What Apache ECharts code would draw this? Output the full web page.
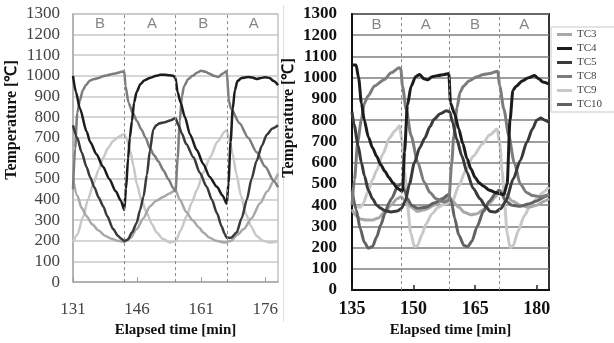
<!DOCTYPE html>
<html>
<head>
<meta charset="utf-8">
<script src="https://cdn.jsdelivr.net/npm/echarts@6/dist/echarts.min.js"></script>
<style>html,body{margin:0;padding:0;background:#fff}#c{width:614px;height:343px}</style>
</head>
<body>
<div id="c"></div>
<script>
// ---------- data ----------
const seriesNames = ['TC3','TC4','TC5','TC8','TC9','TC10'];
const phases = ['B','A','B','A'];
const L_phaseMid = [137.3, 149.5, 161.5, 173.3];
const R_phaseMid = [141, 153, 165, 177];
const L_switch = [143, 155, 167];
const R_switch = [147, 158.8, 170.8];
const L_xTicks = [131, 146, 161, 176];
const R_xTicks = [135, 150, 165, 180];

// left panel  [time(min), temperature(°C)]
const L_TC3 = [[131,500],[132,420],[133,360],[134.2,319],[135.5,280],[137,250],[138.5,225],[140,210],[141.5,200],[143,195],[144.5,215],[145.9,257],[147.5,310],[149,367],[150.5,395],[152.2,414],[153.6,430],[155,446],[156,400],[157.5,340],[159,300],[160.5,265],[161.5,240],[163,215],[164.5,200],[166.6,192],[168,200],[169.5,230],[171,257],[172.8,310],[174.8,382],[176.5,440],[178,490],[179,525]];
const L_TC4 = [[131,1000],[131.7,920],[132.6,843],[134.2,730],[135,680],[136.5,620],[138,560],[139.5,500],[141,440],[142.2,395],[143,350],[143.4,450],[143.9,600],[144.3,700],[144.8,780],[145.3,870],[145.9,922],[146.8,960],[147.7,978],[149,990],[150.5,1000],[151.4,1005],[152.5,1005],[153.5,1003],[154.5,1000],[155,990],[155.5,920],[156.2,870],[157.2,800],[158.4,716],[160,640],[161.5,573],[163,510],[164.7,462],[166,420],[167,380],[167.4,480],[167.9,680],[168.4,840],[168.9,930],[169.5,975],[170.5,990],[172,995],[173,992],[174,985],[175,990],[176,993],[177,990],[178,975],[179,955]];
const L_TC5 = [[131,760],[132,700],[133,630],[134.2,557],[135,510],[136,460],[137,410],[138.1,367],[139,320],[140.4,257],[141.5,225],[142.3,210],[143,200],[143.8,205],[144.8,240],[145.9,287],[146.7,350],[147.5,414],[148.3,520],[149,637],[149.8,740],[150.5,760],[151.3,770],[152.5,775],[153.7,784],[155,795],[155.7,760],[156.5,720],[157.5,670],[159.2,605],[160.7,530],[162.3,462],[163.5,400],[164.7,335],[165.8,270],[166.5,235],[167,215],[168,215],[169.3,240],[170.5,310],[171.7,399],[172.8,500],[174,589],[175.2,660],[176.4,716],[177.7,745],[179,760]];
const L_TC8 = [[131,450],[131.5,650],[132,820],[132.6,880],[133.3,930],[134,955],[135,978],[136,985],[137,990],[138,998],[139,1003],[140,1008],[141,1012],[142,1018],[143,1022],[143.3,950],[144,870],[145,820],[146,780],[147,740],[148,700],[149,650],[150,615],[151,585],[152.2,541],[153.3,500],[154.5,455],[155,440],[155.5,600],[156,780],[156.5,900],[157,950],[158,985],[159,1000],[160,1015],[161,1025],[162,1020],[163,1010],[164,1000],[165,995],[166,1010],[167,1022],[167.5,880],[168,840],[170,770],[172,700],[174,630],[176,560],[178,490],[179,460]];
const L_TC9 = [[131,195],[132,230],[133.4,319],[134.5,400],[135.8,478],[137,545],[138.1,605],[139.2,650],[140.4,684],[141.7,705],[143,718],[143.6,690],[144.4,637],[145.2,560],[145.9,478],[147,400],[148.3,335],[149.5,280],[150.6,240],[152,210],[153.7,192],[155,198],[156.2,250],[157.6,319],[158.8,385],[160,446],[161.5,530],[163.1,605],[164.8,680],[166.6,732],[167,735],[167.6,690],[168.4,620],[169.3,520],[170.3,420],[171.5,330],[172.7,270],[174,224],[175.5,200],[177.1,192],[178.3,195],[179,200]];

// right panel
const R_TC3 = [[135,380],[136,350],[137,335],[138.5,330],[140,330],[141.5,340],[143,370],[144.5,400],[146,430],[147,440],[148,420],[149.5,390],[151,370],[153,380],[155,400],[157,420],[158.5,440],[159.5,420],[161,390],[162.5,365],[164,355],[165.5,360],[167,380],[168.5,410],[170,440],[171,470],[172.5,450],[174,420],[176,400],[178,390],[180,400],[182,420],[183,430]];
const R_TC4 = [[135,1060],[136,1060],[136.6,1000],[137.3,880],[138,800],[139,720],[140,670],[141,630],[142,590],[143,560],[144,530],[145,505],[146,480],[147.3,465],[147.8,650],[148.5,870],[149.4,960],[150.5,1005],[151.5,1015],[152.5,995],[153.5,990],[154.5,1005],[156,1010],[157.5,1015],[158.6,1020],[159,880],[160,830],[161,760],[162,690],[163,620],[164,570],[165,530],[166,505],[167,490],[168.5,470],[170,460],[170.8,455],[172,450],[172.8,500],[173.5,800],[174.2,940],[175,960],[176.5,985],[178,1000],[179.5,1010],[180.5,995],[181.5,980],[183,970]];
const R_TC5 = [[135,840],[135.5,780],[136.5,680],[137.3,600],[138,540],[139,470],[140,430],[141,400],[142,385],[143,375],[144.5,368],[146,372],[147,384],[148,420],[149,500],[150.2,600],[151.5,670],[152.7,715],[154,770],[155,805],[156.5,830],[158,844],[158.8,840],[159.5,790],[160.5,711],[161.8,630],[163,555],[164.5,480],[166.2,430],[167.5,395],[168.7,370],[170,368],[171.3,384],[172.5,420],[174.3,524],[176,610],[177.6,696],[179,760],[180,800],[181,810],[182,800],[183,790]];
const R_TC8 = [[135,400],[135.6,520],[136.4,700],[137.3,805],[138,880],[138.9,914],[140.5,961],[142.9,992],[144.5,1023],[146.5,1047],[146.9,1040],[147.3,960],[148.2,852],[149.4,727],[151,602],[152.6,508],[154,460],[155.5,430],[157.5,415],[158.6,423],[159.3,600],[159.8,727],[160.6,860],[161.3,930],[162.2,961],[163.5,985],[165.5,1005],[167,1015],[168.5,1020],[170.5,1031],[171,960],[172,852],[173.2,727],[174.5,602],[176,500],[177.5,460],[179,445],[181,440],[183,450]];
const R_TC9 = [[135,420],[136,395],[137,390],[137.7,407],[139,470],[140,520],[141,563],[142.5,640],[144.2,719],[145.5,750],[146.6,774],[147.2,700],[147.8,560],[148.5,400],[149.3,270],[150.2,205],[151,210],[152,260],[153,310],[154.5,360],[156,390],[157.5,405],[159,415],[159.5,420],[161,490],[162.7,563],[164.5,630],[166.8,688],[168.5,730],[170.4,758],[171,690],[171.6,560],[172.2,400],[172.8,270],[173.5,200],[174.3,210],[175.5,280],[177,350],[178.5,400],[180,430],[181.5,460],[183,485]];
const R_TC10 = [[135,470],[136,380],[137,290],[138,225],[139,198],[140,205],[141,250],[142,306],[143,360],[144,410],[144.6,430],[146.2,490],[147,500],[147.8,470],[148.5,430],[149.5,400],[151,385],[153,390],[155,410],[157,430],[158.5,450],[159.2,420],[160,340],[161,260],[162.3,210],[163.2,205],[164.2,230],[165.5,300],[167,370],[168.5,420],[170,455],[170.8,470],[171.5,450],[172.5,420],[174,400],[176,395],[178,405],[180,420],[182,440],[183,450]];

// ---------- styling ----------
const colors = {TC3:'#a8a8a8', TC4:'#1c1c1c', TC5:'#3a3a3a', TC8:'#7c7c7c', TC9:'#c8c8c8', TC10:'#626262'};
const drawOrder = ['TC9','TC3','TC10','TC8','TC5','TC4'];
const leftData = {TC3:L_TC3, TC4:L_TC4, TC5:L_TC5, TC8:L_TC8, TC9:L_TC9};
const rightData = {TC3:R_TC3, TC4:R_TC4, TC5:R_TC5, TC8:R_TC8, TC9:R_TC9, TC10:R_TC10};

const serif = 'Liberation Serif';
const plain = v => String(v);
const series = [];
function addLines(dataMap, idx, width) {
  drawOrder.forEach(n => {
    if (!dataMap[n]) return;
    series.push({
      name: n, type: 'line', xAxisIndex: idx, yAxisIndex: idx,
      data: dataMap[n], showSymbol: false, symbol: 'none',
      smooth: 0.25, smoothMonotone: 'x',
      lineStyle: {color: colors[n], width: width},
      itemStyle: {color: colors[n]}, silent: true
    });
  });
}
addLines(leftData, 0, 2.5);
addLines(rightData, 1, 3);

function phaseSeries(idx, mids, switches) {
  return {
    type: 'scatter', xAxisIndex: idx, yAxisIndex: idx, symbolSize: 0, silent: true,
    data: mids.map((t, i) => [t, 1250, phases[i]]),
    label: {show: true, position: 'inside', formatter: p => p.data[2],
      fontFamily: 'Liberation Sans', fontSize: 15, color: '#666'},
    markLine: {silent: true, symbol: 'none', label: {show: false},
      lineStyle: {type: [3, 3], color: '#8a8a8a', width: 1},
      data: switches.map(t => ({xAxis: t}))},
    z: 1
  };
}
series.push(phaseSeries(0, L_phaseMid, L_switch));
series.push(phaseSeries(1, R_phaseMid, R_switch));

const option = {
  animation: false,
  backgroundColor: '#fff',
  grid: [
    {left: 73, top: 14, width: 205, height: 273, show: true, borderColor: '#c4c4c4', borderWidth: 1.5},
    {left: 352, top: 14, width: 197, height: 278, show: true, borderColor: '#333', borderWidth: 2}
  ],
  xAxis: [
    {gridIndex: 0, type: 'value', min: 131, max: 179,
     axisLine: {lineStyle: {color: '#aaa', width: 1.5}},
     splitLine: {show: false},
     axisTick: {inside: true, length: 5, customValues: L_xTicks, lineStyle: {color: '#999'}},
     axisLabel: {customValues: L_xTicks, margin: 19, fontFamily: serif, fontSize: 17, color: '#444', formatter: plain},
     name: 'Elapsed time [min]', nameLocation: 'middle', nameGap: 37,
     nameTextStyle: {fontFamily: serif, fontWeight: 'bold', fontSize: 15, color: '#111'}},
    {gridIndex: 1, type: 'value', min: 135, max: 183,
     axisLine: {lineStyle: {color: '#111', width: 2}},
     splitLine: {show: false},
     axisTick: {inside: true, length: 5, customValues: R_xTicks, lineStyle: {color: '#222', width: 1.5}},
     axisLabel: {customValues: R_xTicks, margin: 10, fontFamily: serif, fontWeight: 'bold', fontSize: 18, color: '#111', formatter: plain},
     name: 'Elapsed time [min]', nameLocation: 'middle', nameGap: 32,
     nameTextStyle: {fontFamily: serif, fontWeight: 'bold', fontSize: 15, color: '#111'}}
  ],
  yAxis: [
    {gridIndex: 0, type: 'value', min: 0, max: 1300, interval: 100,
     axisLine: {show: true, lineStyle: {color: '#aaa', width: 1.5}},
     axisTick: {show: false},
     splitLine: {lineStyle: {color: '#c8c8c8', width: 1.5}},
     axisLabel: {margin: 13, fontFamily: serif, fontSize: 17, color: '#444', formatter: plain}},
    {gridIndex: 1, type: 'value', min: 0, max: 1300, interval: 100,
     axisLine: {show: true, lineStyle: {color: '#111', width: 2}},
     axisTick: {show: false},
     splitLine: {lineStyle: {color: '#7e7e7e', width: 1.5}},
     axisLabel: {margin: 15, fontFamily: serif, fontWeight: 'bold', fontSize: 17, color: '#111', formatter: plain}}
  ],
  legend: {
    data: seriesNames, orient: 'vertical', left: 551, top: 27,
    icon: 'rect', itemWidth: 15, itemHeight: 3, itemGap: 3,
    padding: [2, 14, 2, 6], borderColor: '#c8c8c8', borderWidth: 1,
    textStyle: {fontFamily: serif, fontSize: 11, lineHeight: 11, color: '#444'},
    selectedMode: false
  },
  graphic: [
    {type: 'line', shape: {x1: 283.5, y1: 5, x2: 283.5, y2: 322}, style: {stroke: '#e0e0e0', lineWidth: 1}, silent: true},
    {type: 'text', x: 12, y: 120, rotation: Math.PI / 2,
     style: {text: 'Temperature [℃]', font: 'bold 16px "Liberation Serif"', fill: '#111', align: 'center', verticalAlign: 'middle'}},
    {type: 'text', x: 289, y: 118, rotation: Math.PI / 2,
     style: {text: 'Temperature [℃]', font: 'bold 16px "Liberation Serif"', fill: '#111', align: 'center', verticalAlign: 'middle'}}
  ],
  series: series
};
const chart = echarts.init(document.getElementById('c'), null, {renderer: 'canvas'});
chart.setOption(option);
</script>
</body>
</html>
